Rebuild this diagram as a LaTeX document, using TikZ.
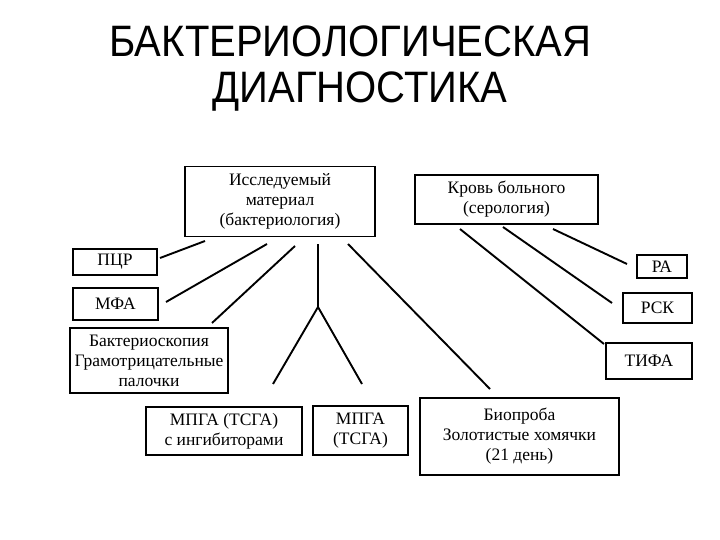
\documentclass[tikz,border=0pt]{standalone}
\usepackage{fontspec}
\setmainfont{Liberation Serif}
\newfontfamily\titlefont[FakeStretch=0.91]{Liberation Sans}
\begin{document}
\begin{tikzpicture}[x=1pt,y=-1pt,
  box/.style={draw=black,line width=1.9pt,align=center,inner sep=0pt,
    font=\fontsize{17.5}{20}\selectfont},
  link/.style={draw=black,line width=1.9pt},
  ttl/.style={font=\titlefont\fontsize{44}{46}\selectfont,anchor=base,inner sep=0pt}]
\useasboundingbox (0,0) rectangle (720,540);
\fill[white] (0,0) rectangle (720,540);
% title
\node[ttl] (t1) at (350.5,57) {БАКТЕРИОЛОГИЧЕСКАЯ};
\node[ttl] (t2) at (360,103) {ДИАГНОСТИКА};
% boxes
\node[box,minimum width=190pt,minimum height=70pt] (isl) at (280,201.5) {Исследуемый\\материал\\(бактериология)};
\node[box,minimum width=183pt,minimum height=49pt] (krov) at (506.5,199.5) {Кровь больного\\(серология)};
\node[box,minimum width=84pt,minimum height=26pt] (pcr) at (115,262) {ПЦР};
\node[box,minimum width=85pt,minimum height=32pt] (mfa) at (115.5,304) {МФА};
\node[box,minimum width=158pt,minimum height=65pt] (bakt) at (149,360.5) {Бактериоскопия\\Грамотрицательные\\палочки};
\node[box,minimum width=156pt,minimum height=48pt] (mpga1) at (224,431) {МПГА (ТСГА)\\с ингибиторами};
\node[box,minimum width=95pt,minimum height=49pt] (mpga2) at (360.5,430.5) {МПГА\\(ТСГА)};
\node[box,minimum width=199pt,minimum height=77pt] (bio) at (519.5,436.5) {Биопроба\\Золотистые хомячки\\(21 день)};
\node[box,minimum width=50pt,minimum height=23pt] (ra) at (662,266.5) {РА};
\node[box,minimum width=69pt,minimum height=30pt] (rsk) at (657.5,308) {РСК};
\node[box,minimum width=86pt,minimum height=36pt] (tifa) at (649,361) {ТИФА};
% connector end points (lines float free of the boxes)
\coordinate (pcrA) at (205,241);  \coordinate (pcrB) at (160,258);
\coordinate (mfaA) at (267,244);  \coordinate (mfaB) at (166,302);
\coordinate (bakA) at (295,246);  \coordinate (bakB) at (212,323);
\coordinate (vA) at (318,244);    \coordinate (fork) at (318,307);
\coordinate (m1B) at (273,384);   \coordinate (m2B) at (362,384);
\coordinate (bioA) at (348,244);  \coordinate (bioB) at (490,389);
\coordinate (raA) at (553,229);   \coordinate (raB) at (627,264);
\coordinate (rskA) at (503,227);  \coordinate (rskB) at (612,303);
\coordinate (tifA) at (460,229);  \coordinate (tifB) at (604,344);
% connectors
\draw[link] (pcrA) -- (pcrB);
\draw[link] (mfaA) -- (mfaB);
\draw[link] (bakA) -- (bakB);
\draw[link] (vA) -- (fork);
\draw[link] (fork) -- (m1B);
\draw[link] (fork) -- (m2B);
\draw[link] (bioA) -- (bioB);
\draw[link] (raA) -- (raB);
\draw[link] (rskA) -- (rskB);
\draw[link] (tifA) -- (tifB);
\end{tikzpicture}
\end{document}
